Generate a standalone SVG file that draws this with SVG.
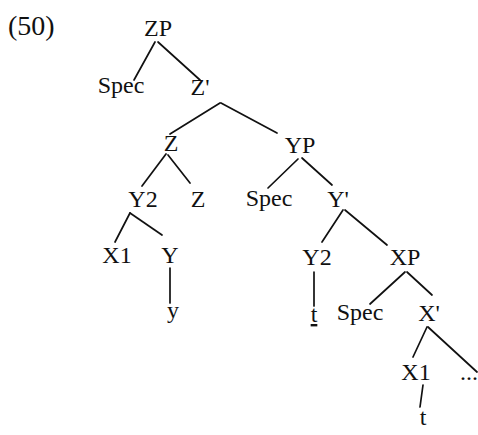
<svg xmlns="http://www.w3.org/2000/svg" width="478" height="435" viewBox="0 0 478 435">
<style>
  text { font-family: "Liberation Serif", "Times New Roman", serif; font-size: 24px; fill: #111; text-anchor: middle; }
  .conn line { stroke: #111; stroke-width: 1.7; stroke-linecap: round; }
</style>
<rect width="478" height="435" fill="#fff"/>
<text x="8" y="35" style="font-size:28px;text-anchor:start">(50)</text>
<g id="connectors" class="conn">
  <line x1="155" y1="42" x2="134" y2="80"/>
  <line x1="158" y1="42" x2="200" y2="80"/>
  <line x1="220" y1="103" x2="170" y2="134"/>
  <line x1="221" y1="103" x2="277" y2="133"/>
  <line x1="166" y1="154" x2="142" y2="186"/>
  <line x1="168" y1="155" x2="190" y2="183"/>
  <line x1="298" y1="159" x2="268" y2="188"/>
  <line x1="302" y1="158" x2="332" y2="185"/>
  <line x1="343" y1="210" x2="322" y2="242"/>
  <line x1="345" y1="210" x2="387" y2="245"/>
  <line x1="130" y1="213" x2="115" y2="242"/>
  <line x1="130" y1="213" x2="162" y2="235"/>
  <line x1="170" y1="268" x2="170" y2="303"/>
  <line x1="314" y1="272" x2="314" y2="306"/>
  <line x1="405" y1="272" x2="370" y2="304"/>
  <line x1="407" y1="272" x2="432" y2="295"/>
  <line x1="427" y1="327" x2="413" y2="357"/>
  <line x1="428" y1="327" x2="477" y2="372"/>
  <line x1="423" y1="385" x2="420" y2="407"/>
</g>
<g id="n-ZP"><text x="158" y="36">ZP</text></g>
<g id="n-Spec1"><text x="121" y="93">Spec</text></g>
<g id="n-Zbar"><text x="200" y="95">Z'</text></g>
<g id="n-Z"><text x="171" y="151">Z</text></g>
<g id="n-YP"><text x="300" y="153">YP</text></g>
<g id="n-Y2a"><text x="143" y="207">Y2</text></g>
<g id="n-Z2"><text x="198" y="207">Z</text></g>
<g id="n-Spec2"><text x="269" y="206">Spec</text></g>
<g id="n-Ybar"><text x="338" y="207">Y'</text></g>
<g id="n-X1a"><text x="117" y="263">X1</text></g>
<g id="n-Y"><text x="170" y="263">Y</text></g>
<g id="n-y"><text x="173" y="318">y</text></g>
<g id="n-Y2b"><text x="317" y="265">Y2</text></g>
<g id="n-XP"><text x="405" y="265">XP</text></g>
<g id="n-t1"><text x="314" y="322" text-decoration="underline">t</text></g>
<g id="n-Spec3"><text x="360" y="320">Spec</text></g>
<g id="n-Xbar"><text x="429" y="321">X'</text></g>
<g id="n-X1b"><text x="416" y="380">X1</text></g>
<g id="n-dots"><text x="469" y="380">...</text></g>
<g id="n-t2"><text x="423" y="425">t</text></g>
</svg>
